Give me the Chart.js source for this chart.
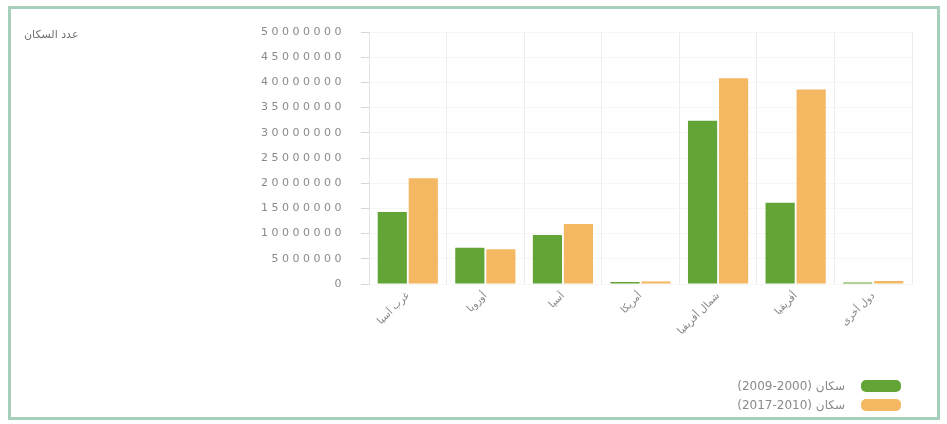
<!DOCTYPE html>
<html lang="ar">
<head>
<meta charset="utf-8">
<title>عدد السكان</title>
<script src="https://cdn.jsdelivr.net/npm/chart.js@4.4.1/dist/chart.umd.min.js"></script>
<style>
  html, body { margin: 0; padding: 0; background: #fff; }
  body { width: 947px; height: 424px; position: relative; overflow: hidden; font-family: "DejaVu Sans", sans-serif; }
  #chart { position: absolute; left: 0; top: 0; }
  .frame { position: absolute; left: 8px; top: 6px; width: 926px; height: 408px; border: 3px solid #a6cfbc; pointer-events: none; }
  .axis-title { position: absolute; left: 24px; top: 28px; font-size: 11px; color: #6f6f6f; direction: rtl; }
  .legend { position: absolute; right: 46px; top: 376px; }
  .legend div { display: flex; justify-content: flex-end; align-items: center; height: 19px; font-size: 12px; color: #8a8a8a; letter-spacing: 3px; }
  .legend span.box { display: inline-block; width: 40px; height: 12px; border-radius: 5px; margin-left: 16px; }
</style>
</head>
<body>
<canvas id="chart" width="947" height="424"></canvas>
<div class="frame"></div>
<div class="axis-title">عدد السكان</div>
<div class="legend" id="legend"></div>
<script>
// categories and the two periods
const categories = ["غرب آسيا", "أوروبا", "آسيا", "أمريكا", "شمال أفريقيا", "أفريقيا", "دول أخرى"];
const period1 = [14300000, 7200000, 9700000, 400000, 32400000, 16100000, 300000];
const period2 = [21000000, 6900000, 11900000, 500000, 40800000, 38600000, 600000];
const seriesNames = ["سكان (2000-2009)", "سكان (2010-2017)"];
const seriesColors = ["#62a536", "#f4b862"];
const yMin = 0;
const yMax = 50000000;
const yStep = 5000000;

// wide-spaced numbers on the value axis
function spacedLabels(scale) {
    const draw = scale.drawLabels;
    if (draw._spaced) return;
    scale.drawLabels = function (area) {
        const ctx = this.ctx;
        ctx.save();
        ctx.letterSpacing = "3.5px";
        draw.call(this, area);
        ctx.restore();
    };
    scale.drawLabels._spaced = true;
}

const ctx = document.getElementById("chart");
new Chart(ctx, {
    type: "bar",
    data: {
        labels: categories,
        datasets: [period1, period2].map((values, i) => ({
            label: seriesNames[i],
            data: values,
            backgroundColor: seriesColors[i],
            borderWidth: 0,
            categoryPercentage: 0.8,
            barPercentage: 0.94
        }))
    },
    options: {
        responsive: false,
        animation: false,
        layout: { padding: { left: 20, right: 35, top: 32, bottom: 0 } },
        plugins: {
            legend: { display: false },
            tooltip: { enabled: false }
        },
        scales: {
            x: {
                afterFit: s => { s.height = 140; },
                grid: { color: "#ececec", drawTicks: false, offset: true },
                border: { display: false },
                ticks: {
                    minRotation: 45,
                    maxRotation: 45,
                    padding: 6,
                    color: "#858585",
                    font: { family: "DejaVu Sans", size: 10 }
                }
            },
            y: {
                min: yMin,
                max: yMax,
                afterFit: s => { s.width = 349; },
                afterUpdate: spacedLabels,
                grid: { color: "#f6f6f6", tickColor: "#d6d6d6", tickLength: 8 },
                border: { display: true, color: "#e2e2e2" },
                ticks: {
                    stepSize: yStep,
                    padding: 16,
                    color: "#8a8a8a",
                    font: { family: "DejaVu Sans", size: 11 },
                    callback: v => String(v)
                }
            }
        }
    }
});

// legend: text on the left, colour swatch on the right
const legend = document.getElementById("legend");
seriesNames.forEach((name, i) => {
    const row = document.createElement("div");
    const text = document.createElement("span");
    text.textContent = name;
    text.dir = "rtl";
    const box = document.createElement("span");
    box.className = "box";
    box.style.background = seriesColors[i];
    row.appendChild(text);
    row.appendChild(box);
    legend.appendChild(row);
});
</script>
</body>
</html>
